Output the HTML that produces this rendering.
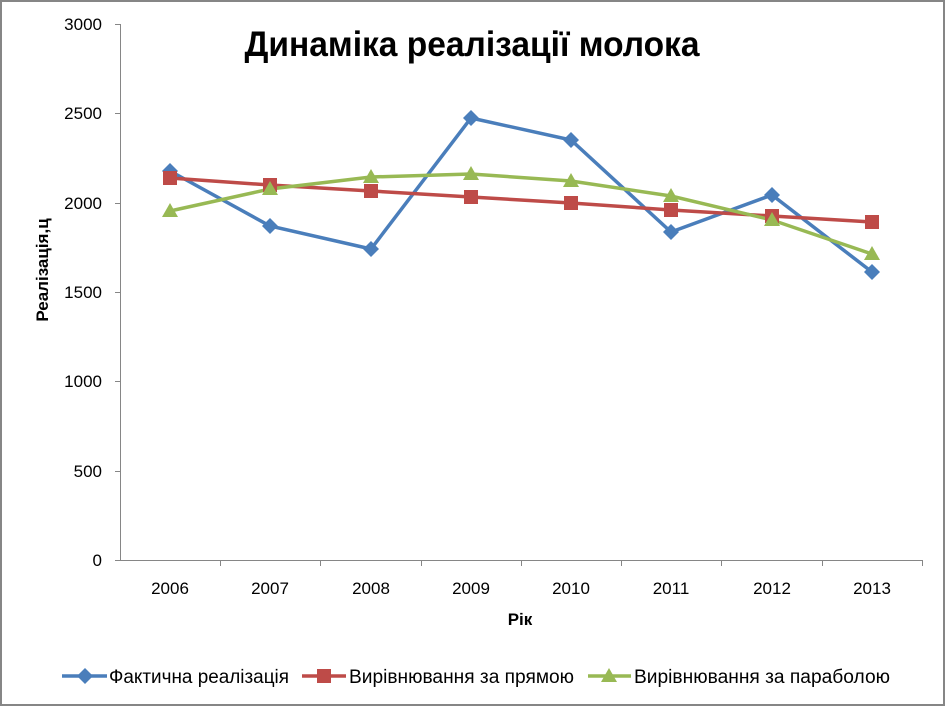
<!DOCTYPE html>
<html><head><meta charset="utf-8"><style>body{margin:0;background:#fff}svg{display:block}text{font-family:"Liberation Sans Narrow","Liberation Sans",sans-serif}</style></head><body>
<svg width="946" height="708" viewBox="0 0 946 708" xmlns="http://www.w3.org/2000/svg">
<rect x="1" y="1" width="943" height="704" fill="#fff" stroke="#868686" stroke-width="2"/>
<line x1="120.5" y1="24" x2="120.5" y2="560" stroke="#868686"/>
<line x1="120" y1="560.5" x2="922" y2="560.5" stroke="#868686"/>
<g stroke="#868686"><line x1="115" y1="24.5" x2="120" y2="24.5"/><line x1="115" y1="113.5" x2="120" y2="113.5"/><line x1="115" y1="203.5" x2="120" y2="203.5"/><line x1="115" y1="292.5" x2="120" y2="292.5"/><line x1="115" y1="381.5" x2="120" y2="381.5"/><line x1="115" y1="471.5" x2="120" y2="471.5"/><line x1="115" y1="560.5" x2="120" y2="560.5"/>
<line x1="220.5" y1="560" x2="220.5" y2="566"/><line x1="320.5" y1="560" x2="320.5" y2="566"/><line x1="421.5" y1="560" x2="421.5" y2="566"/><line x1="521.5" y1="560" x2="521.5" y2="566"/><line x1="621.5" y1="560" x2="621.5" y2="566"/><line x1="721.5" y1="560" x2="721.5" y2="566"/><line x1="822.5" y1="560" x2="822.5" y2="566"/><line x1="922.5" y1="560" x2="922.5" y2="566"/></g>
<g font-size="17" text-anchor="end" fill="#000" style="font-family:'Liberation Sans',sans-serif"><text x="102" y="30">3000</text><text x="102" y="119">2500</text><text x="102" y="209">2000</text><text x="102" y="298">1500</text><text x="102" y="387">1000</text><text x="102" y="477">500</text><text x="102" y="566">0</text></g>
<g font-size="17" text-anchor="middle" style="font-family:'Liberation Sans',sans-serif"><text x="170" y="594">2006</text><text x="270" y="594">2007</text><text x="371" y="594">2008</text><text x="471" y="594">2009</text><text x="571" y="594">2010</text><text x="671" y="594">2011</text><text x="772" y="594">2012</text><text x="872" y="594">2013</text></g>
<text x="520" y="625" font-size="17" font-weight="bold" text-anchor="middle" style="font-family:'Liberation Sans',sans-serif">Рік</text>
<text transform="translate(48,270) rotate(-90)" font-size="17" font-weight="bold" text-anchor="middle" style="font-family:'Liberation Sans',sans-serif">Реалізація,ц</text>
<text x="472" y="56" font-size="35" font-weight="bold" text-anchor="middle" textLength="455" lengthAdjust="spacingAndGlyphs" style="font-family:'Liberation Sans',sans-serif">Динаміка реалізації молока</text>
<polyline fill="none" stroke="#4a7ebb" stroke-width="3.5" points="170,171 270,226 371,249 471,118 571,140 671,232 772,195 872,272"/>
<polyline fill="none" stroke="#be4b48" stroke-width="3.5" points="170,178 270,185 371,191 471,197 571,203 671,210 772,216 872,222"/>
<polyline fill="none" stroke="#98b954" stroke-width="3.5" points="170,211 270,189 371,177 471,174 571,181 671,196 772,220 872,254"/>
<g fill="#4a7ebb"><path d="M170,163l8,8-8,8-8-8z"/><path d="M270,218l8,8-8,8-8-8z"/><path d="M371,241l8,8-8,8-8-8z"/><path d="M471,110l8,8-8,8-8-8z"/><path d="M571,132l8,8-8,8-8-8z"/><path d="M671,224l8,8-8,8-8-8z"/><path d="M772,187l8,8-8,8-8-8z"/><path d="M872,264l8,8-8,8-8-8z"/></g>
<g fill="#be4b48"><rect x="163" y="171" width="14" height="14"/><rect x="263" y="178" width="14" height="14"/><rect x="364" y="184" width="14" height="14"/><rect x="464" y="190" width="14" height="14"/><rect x="564" y="196" width="14" height="14"/><rect x="664" y="203" width="14" height="14"/><rect x="765" y="209" width="14" height="14"/><rect x="865" y="215" width="14" height="14"/></g>
<g fill="#98b954"><path d="M170,203l8,14h-16z"/><path d="M270,181l8,14h-16z"/><path d="M371,169l8,14h-16z"/><path d="M471,166l8,14h-16z"/><path d="M571,173l8,14h-16z"/><path d="M671,188l8,14h-16z"/><path d="M772,212l8,14h-16z"/><path d="M872,246l8,14h-16z"/></g>
<line x1="62" y1="676" x2="107" y2="676" stroke="#4a7ebb" stroke-width="3.5"/><path d="M85,668l8,8-8,8-8-8z" fill="#4a7ebb"/>
<text x="109" y="683" font-size="19" textLength="180" lengthAdjust="spacingAndGlyphs">Фактична реалізація</text>
<line x1="302" y1="676" x2="346" y2="676" stroke="#be4b48" stroke-width="3.5"/><rect x="317" y="669" width="14" height="14" fill="#be4b48"/>
<text x="349" y="683" font-size="19" textLength="225" lengthAdjust="spacingAndGlyphs">Вирівнювання за прямою</text>
<line x1="588" y1="676" x2="631" y2="676" stroke="#98b954" stroke-width="3.5"/><path d="M609,668l8,14h-16z" fill="#98b954"/>
<text x="634" y="683" font-size="19" textLength="256" lengthAdjust="spacingAndGlyphs">Вирівнювання за параболою</text>
</svg>
</body></html>
